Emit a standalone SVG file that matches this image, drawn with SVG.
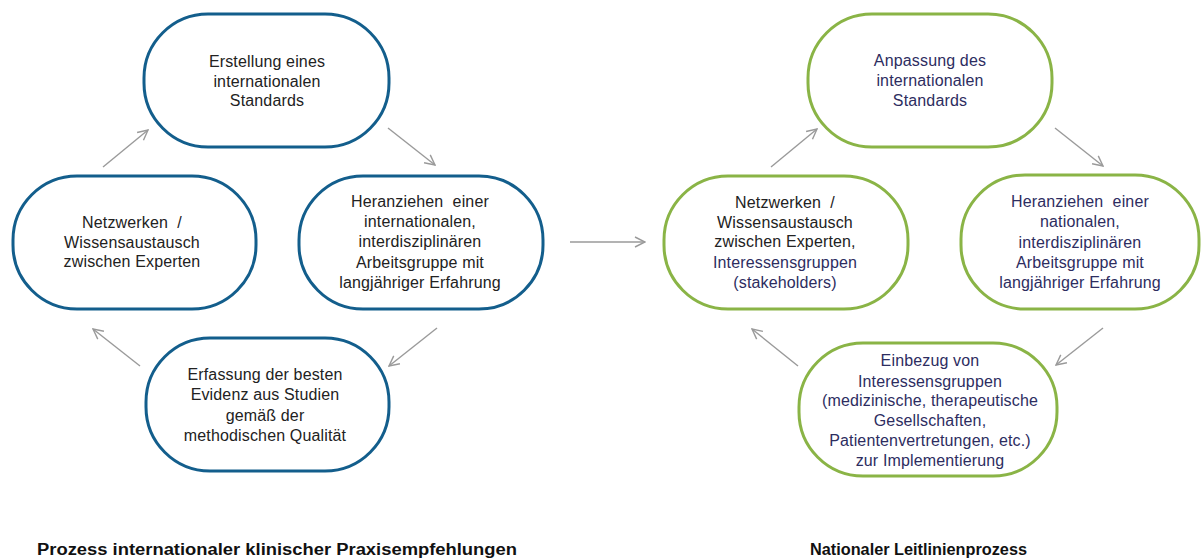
<svg xmlns="http://www.w3.org/2000/svg" width="1201" height="560" viewBox="0 0 1201 560">
<style>
.nb{fill:#ffffff;stroke:#135E8C;stroke-width:3}
.ng{fill:#ffffff;stroke:#8AB446;stroke-width:3}
.t{font-family:"Liberation Sans",Arial,sans-serif;font-size:16px;letter-spacing:0.15px;text-anchor:middle;fill:#222222;white-space:pre}
.tn{fill:#2D2D5F}
.title{font-family:"Liberation Sans",Arial,sans-serif;font-size:16px;font-weight:bold;fill:#111111}
.c{stroke:#9A9A9A;stroke-width:1.4;fill:none;marker-end:url(#ah)}
</style>
<defs>
<marker id="ah" viewBox="0 0 12 12" refX="11" refY="6" markerWidth="12" markerHeight="12" markerUnits="userSpaceOnUse" orient="auto">
<path d="M1,1 L11,6 L1,11" fill="none" stroke="#9A9A9A" stroke-width="1.4"/>
</marker>
</defs>
<rect width="1201" height="560" fill="#ffffff"/>
<g id="connectors">
<line class="c" x1="103" y1="167" x2="148" y2="130"/>
<line class="c" x1="388" y1="128" x2="435" y2="165"/>
<line class="c" x1="437" y1="328" x2="389" y2="366"/>
<line class="c" x1="140" y1="366" x2="93" y2="329"/>
<line class="c" x1="570" y1="242" x2="645" y2="242"/>
<line class="c" x1="771" y1="167" x2="817" y2="129"/>
<line class="c" x1="1055" y1="128" x2="1103" y2="166"/>
<line class="c" x1="1103" y1="328" x2="1056" y2="365"/>
<line class="c" x1="798" y1="366" x2="752" y2="329"/>
</g>
<g id="b-top">
<rect class="nb" x="144" y="14" width="245" height="133" rx="64"/>
<text class="t" x="267" y="67">Erstellung eines</text>
<text class="t" x="267" y="87">internationalen</text>
<text class="t" x="267" y="106">Standards</text>
</g>
<g id="b-left">
<rect class="nb" x="13" y="176" width="243" height="133" rx="64"/>
<text class="t" x="132" y="228">Netzwerken  /</text>
<text class="t" x="132" y="248">Wissensaustausch</text>
<text class="t" x="132" y="267">zwischen Experten</text>
</g>
<g id="b-right">
<rect class="nb" x="299" y="176" width="244" height="133" rx="64"/>
<text class="t" x="420" y="207">Heranziehen  einer</text>
<text class="t" x="420" y="227">internationalen,</text>
<text class="t" x="420" y="247">interdisziplinären</text>
<text class="t" x="420" y="268">Arbeitsgruppe mit</text>
<text class="t" x="420" y="288">langjähriger Erfahrung</text>
</g>
<g id="b-bottom">
<rect class="nb" x="146" y="338" width="243" height="133" rx="64"/>
<text class="t" x="265" y="380">Erfassung der besten</text>
<text class="t" x="265" y="400">Evidenz aus Studien</text>
<text class="t" x="265" y="421">gemäß der</text>
<text class="t" x="265" y="441">methodischen Qualität</text>
</g>
<g id="g-top">
<rect class="ng" x="808" y="14" width="244" height="133" rx="64"/>
<text class="t tn" x="930" y="66">Anpassung des</text>
<text class="t tn" x="930" y="86">internationalen</text>
<text class="t tn" x="930" y="106">Standards</text>
</g>
<g id="g-left">
<rect class="ng" x="664" y="176" width="244" height="133" rx="64"/>
<text class="t" x="785" y="208">Netzwerken  /</text>
<text class="t" x="785" y="228">Wissensaustausch</text>
<text class="t" x="785" y="247">zwischen Experten,</text>
<text class="t tn" x="785" y="268">Interessensgruppen</text>
<text class="t tn" x="785" y="288">(stakeholders)</text>
</g>
<g id="g-right">
<rect class="ng" x="961" y="175" width="238" height="134" rx="64"/>
<text class="t tn" x="1080" y="207">Heranziehen  einer</text>
<text class="t tn" x="1080" y="227">nationalen,</text>
<text class="t tn" x="1080" y="248">interdisziplinären</text>
<text class="t tn" x="1080" y="268">Arbeitsgruppe mit</text>
<text class="t tn" x="1080" y="288">langjähriger Erfahrung</text>
</g>
<g id="g-bottom">
<rect class="ng" x="799" y="343" width="258" height="133" rx="64"/>
<text class="t tn" x="930" y="366">Einbezug von</text>
<text class="t tn" x="930" y="387">Interessensgruppen</text>
<text class="t tn" x="930" y="406">(medizinische, therapeutische</text>
<text class="t tn" x="930" y="426">Gesellschaften,</text>
<text class="t tn" x="930" y="446">Patientenvertretungen, etc.)</text>
<text class="t tn" x="930" y="466">zur Implementierung</text>
</g>
<g id="titles">
<text class="title" x="37" y="555" textLength="480" lengthAdjust="spacingAndGlyphs">Prozess internationaler klinischer Praxisempfehlungen</text>
<text class="title" x="810" y="555" textLength="217" lengthAdjust="spacingAndGlyphs">Nationaler Leitlinienprozess</text>
</g>
</svg>
